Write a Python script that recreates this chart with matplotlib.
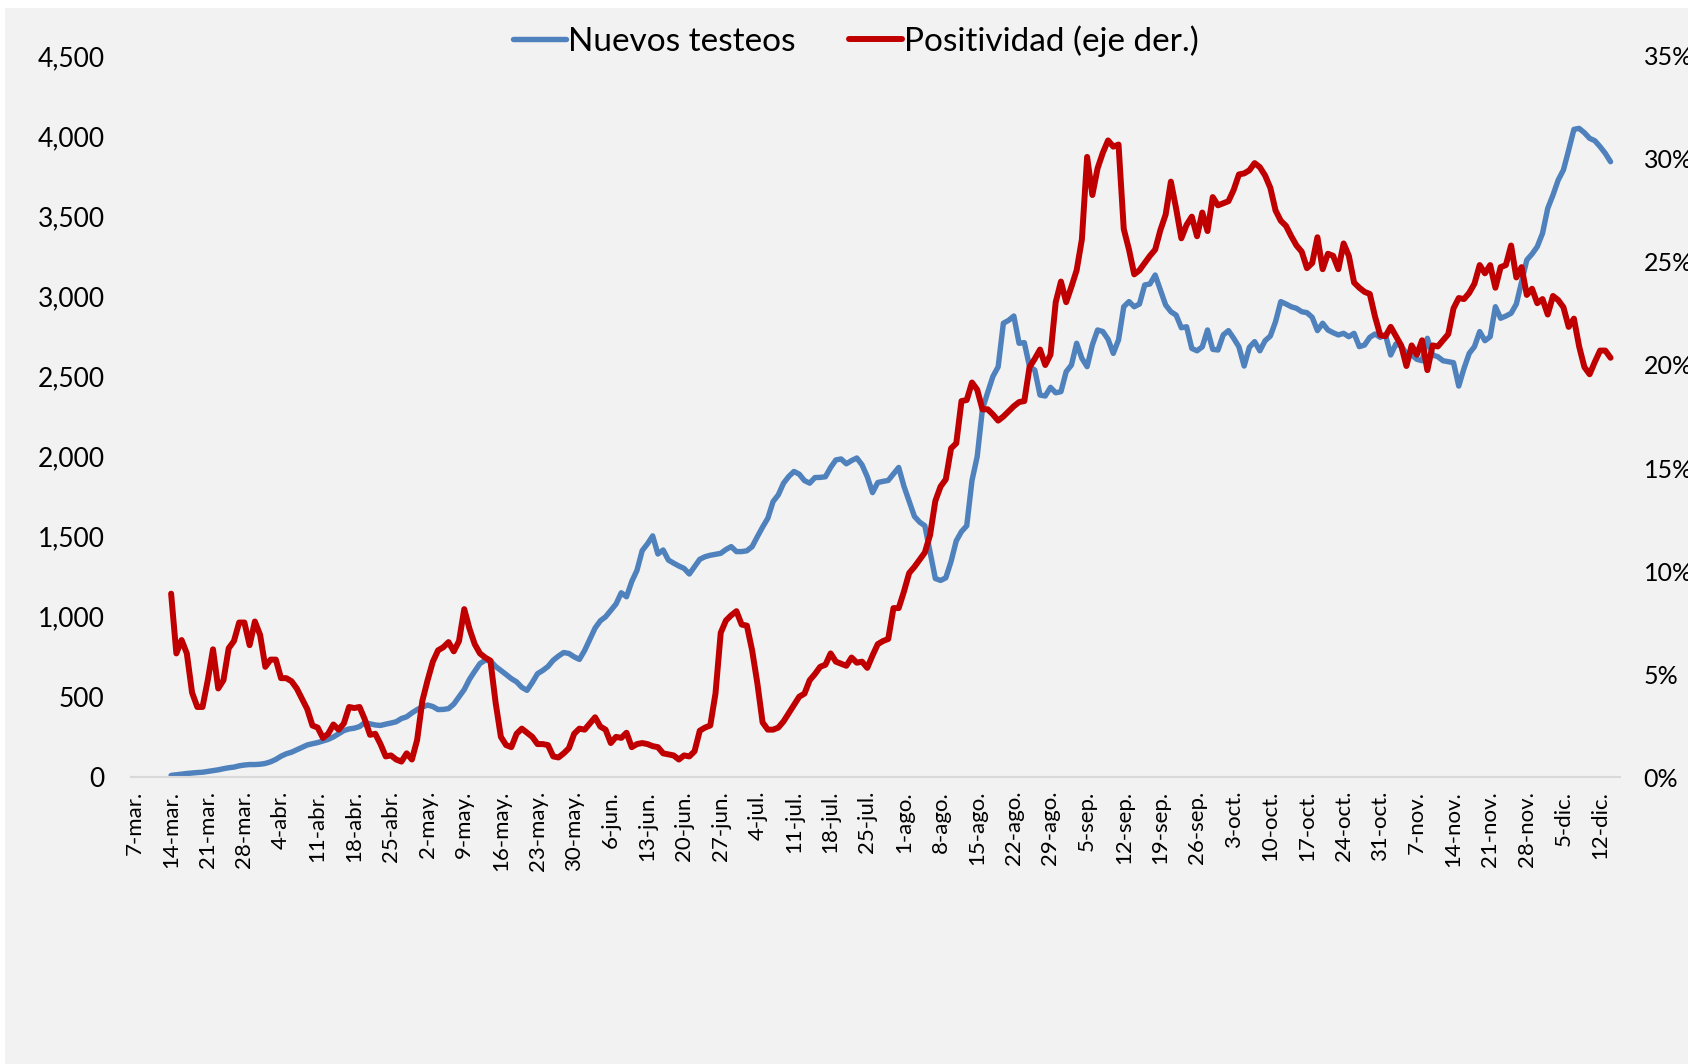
"""
Nuevos testeos y positividad diaria (2020)
"""

import pandas as pd
import matplotlib.pyplot as plt
import matplotlib.dates as mdates
from matplotlib.ticker import FuncFormatter, FixedLocator
from matplotlib.patches import Rectangle

plt.rcParams['font.family'] = ['Lato', 'DejaVu Sans']

START = '2020-03-14'

# Nuevos testeos (eje izquierdo), un valor por día desde el 14-mar
testeos = [
    10, 14, 18, 22, 25, 28, 30,
    35, 40, 45, 52, 58, 62, 70,
    75, 78, 78, 80, 85, 95, 110,
    130, 145, 155, 170, 185, 200, 208,
    215, 225, 235, 250, 270, 290, 300,
    305, 315, 340, 332, 325, 322, 330,
    337, 345, 365, 376, 400, 421, 437,
    449, 440, 421, 422, 427, 455, 500,
    546, 610, 660, 708, 729, 725, 690,
    665, 640, 614, 594, 560, 541, 590,
    645, 665, 690, 729, 755, 777, 771,
    750, 734, 790, 860, 930, 975, 1000,
    1040, 1080, 1150, 1125, 1220, 1290, 1413,
    1455, 1505, 1392, 1417, 1354, 1335, 1317,
    1302, 1267, 1313, 1359, 1375, 1384, 1390,
    1396, 1420, 1438, 1407, 1407, 1412, 1438,
    1500, 1560, 1615, 1719, 1761, 1834, 1876,
    1907, 1890, 1850, 1834, 1869, 1870, 1874,
    1932, 1979, 1985, 1955, 1975, 1991, 1948,
    1874, 1775, 1838, 1845, 1851, 1892, 1932,
    1815, 1721, 1627, 1591, 1568, 1404, 1239,
    1227, 1243, 1345, 1474, 1532, 1568, 1850,
    2000, 2296, 2400, 2500, 2560, 2832, 2850,
    2877, 2707, 2711, 2561, 2540, 2384, 2378,
    2432, 2398, 2405, 2530, 2571, 2707, 2613,
    2561, 2697, 2790, 2780, 2732, 2644, 2728,
    2935, 2967, 2935, 2952, 3071, 3077, 3133,
    3040, 2946, 2904, 2883, 2804, 2810, 2675,
    2660, 2685, 2790, 2669, 2665, 2759, 2786,
    2738, 2685, 2565, 2682, 2717, 2660, 2723,
    2752, 2842, 2967, 2952, 2935, 2925, 2904,
    2898, 2869, 2786, 2832, 2790, 2773, 2759,
    2769, 2748, 2769, 2686, 2696, 2744, 2765,
    2744, 2759, 2634, 2703, 2690, 2644, 2634,
    2607, 2598, 2738, 2634, 2623, 2598, 2592,
    2586, 2440, 2550, 2644, 2686, 2780, 2723,
    2748, 2935, 2863, 2877, 2894, 2952, 3091,
    3227, 3264, 3310, 3393, 3549, 3632, 3726,
    3789, 3913, 4042, 4048, 4021, 3986, 3971,
    3934, 3892, 3840,
]

# Positividad en % (eje derecho), un valor por día desde el 14-mar
positividad = [
    8.9, 6.0, 6.65, 6.0, 4.1, 3.4, 3.4,
    4.7, 6.2, 4.3, 4.7, 6.25, 6.6, 7.5,
    7.5, 6.4, 7.55, 6.9, 5.35, 5.7, 5.7,
    4.8, 4.8, 4.65, 4.3, 3.8, 3.3, 2.5,
    2.4, 1.9, 2.1, 2.55, 2.3, 2.6, 3.4,
    3.35, 3.4, 2.8, 2.05, 2.1, 1.6, 1.0,
    1.05, 0.85, 0.75, 1.15, 0.85, 1.8, 3.7,
    4.7, 5.6, 6.15, 6.3, 6.55, 6.1, 6.6,
    8.15, 7.2, 6.45, 6.0, 5.8, 5.65, 3.6,
    1.95, 1.55, 1.45, 2.1, 2.35, 2.15, 1.95,
    1.6, 1.6, 1.55, 1.0, 0.95, 1.15, 1.4,
    2.1, 2.35, 2.3, 2.6, 2.9, 2.45, 2.3,
    1.65, 1.95, 1.9, 2.15, 1.45, 1.6, 1.65,
    1.6, 1.5, 1.45, 1.15, 1.1, 1.05, 0.85,
    1.05, 1.0, 1.25, 2.25, 2.4, 2.5, 4.05,
    7.0, 7.6, 7.85, 8.05, 7.4, 7.35, 6.15,
    4.55, 2.65, 2.3, 2.3, 2.4, 2.7, 3.1,
    3.5, 3.9, 4.05, 4.7, 5.0, 5.35, 5.45,
    6.0, 5.6, 5.5, 5.4, 5.8, 5.55, 5.6,
    5.3, 5.9, 6.45, 6.6, 6.7, 8.2, 8.2,
    9.0, 9.9, 10.2, 10.55, 10.9, 11.75, 13.4,
    14.1, 14.45, 15.95, 16.2, 18.25, 18.3, 19.15,
    18.8, 17.85, 17.85, 17.6, 17.3, 17.5, 17.75,
    18.0, 18.2, 18.25, 19.9, 20.3, 20.75, 20.0,
    20.5, 23.05, 24.05, 23.05, 23.8, 24.6, 26.1,
    30.1, 28.25, 29.55, 30.3, 30.9, 30.6, 30.7,
    26.6, 25.6, 24.4, 24.6, 24.95, 25.3, 25.6,
    26.55, 27.3, 28.9, 27.6, 26.15, 26.8, 27.2,
    26.25, 27.4, 26.5, 28.15, 27.75, 27.85, 27.95,
    28.5, 29.25, 29.3, 29.45, 29.8, 29.6, 29.2,
    28.6, 27.5, 27.0, 26.75, 26.25, 25.8, 25.5,
    24.7, 24.95, 26.2, 24.65, 25.4, 25.3, 24.65,
    25.9, 25.3, 24.0, 23.75, 23.55, 23.45, 22.35,
    21.45, 21.4, 21.85, 21.4, 20.95, 19.95, 20.95,
    20.5, 21.2, 19.75, 20.95, 20.9, 21.2, 21.5,
    22.75, 23.25, 23.2, 23.5, 23.95, 24.85, 24.45,
    24.85, 23.75, 24.75, 24.85, 25.8, 24.25, 24.75,
    23.4, 23.7, 23.0, 23.2, 22.45, 23.35, 23.15,
    22.8, 21.85, 22.25, 20.9, 19.9, 19.55, 20.15,
    20.7, 20.7, 20.35,
]

MESES = {3: 'mar', 4: 'abr', 5: 'may', 6: 'jun', 7: 'jul', 8: 'ago',
         9: 'sep', 10: 'oct', 11: 'nov', 12: 'dic'}

AZUL = '#4F81BD'
ROJO = '#C00000'
FONDO = '#F2F2F2'


def etiqueta_fecha(x, pos=None):
    """7-mar. , 14-mar. , ..."""
    d = mdates.num2date(x)
    return f'{d.day}-{MESES[d.month]}.'


def plot_testeos():
    fig = plt.figure(figsize=(16.88, 10.64), dpi=100, facecolor='white')
    # fondo gris del área del gráfico (deja un borde blanco arriba e izquierda)
    fig.patches.append(Rectangle((0.003, 0), 1, 0.9925, transform=fig.transFigure,
                                 facecolor=FONDO, edgecolor='none', zorder=-10))

    ax = fig.add_axes([0.0776, 0.2697, 0.8821, 0.6777])
    ax.set_facecolor('none')
    ax2 = ax.twinx()

    dias_t = pd.date_range(START, periods=len(testeos), freq='D')
    dias_p = pd.date_range(START, periods=len(positividad), freq='D')

    l1, = ax.plot(dias_t, testeos, color=AZUL, lw=3.9, solid_joinstyle='round',
                  solid_capstyle='round', label='Nuevos testeos')
    l2, = ax2.plot(dias_p, positividad, color=ROJO, lw=4.3, solid_joinstyle='round',
                   solid_capstyle='round', label='Positividad (eje der.)')

    x0 = pd.Timestamp('2020-03-07')
    ax.set_xlim(x0 - pd.Timedelta(hours=16), x0 + pd.Timedelta(days=283.8))
    ax.set_ylim(0, 4500)
    ax2.set_ylim(0, 35)

    ticks = pd.date_range('2020-03-07', '2020-12-12', freq='7D')
    ax.xaxis.set_major_locator(FixedLocator(mdates.date2num(ticks)))
    ax.xaxis.set_major_formatter(FuncFormatter(etiqueta_fecha))
    ax.set_yticks(range(0, 4501, 500))
    ax.yaxis.set_major_formatter(FuncFormatter(lambda v, p: f'{int(v):,}'))
    ax2.set_yticks(range(0, 36, 5))
    ax2.yaxis.set_major_formatter(FuncFormatter(lambda v, p: f'{int(v)}%'))

    ax.tick_params(axis='x', length=0, pad=10, labelsize=16, rotation=90)
    ax.tick_params(axis='y', length=0, pad=19, labelsize=19)
    ax2.tick_params(axis='y', length=0, pad=17, labelsize=18)

    for a in (ax, ax2):
        for s in ('top', 'left', 'right', 'bottom'):
            a.spines[s].set_visible(False)
    ax.spines['bottom'].set_visible(True)
    ax.spines['bottom'].set_color('#D9D9D9')
    ax.spines['bottom'].set_linewidth(1.5)

    fig.legend([l1, l2], ['Nuevos testeos', 'Positividad (eje der.)'],
               loc='center', bbox_to_anchor=(0.507, 0.9615), ncol=2,
               frameon=False, fontsize=24, handlelength=1.6, handletextpad=0.05,
               columnspacing=1.6, borderaxespad=0)
    return fig


def main():
    fig = plot_testeos()
    fig.savefig('out.png', dpi=100, facecolor=fig.get_facecolor())
    plt.close(fig)


if __name__ == '__main__':
    main()
